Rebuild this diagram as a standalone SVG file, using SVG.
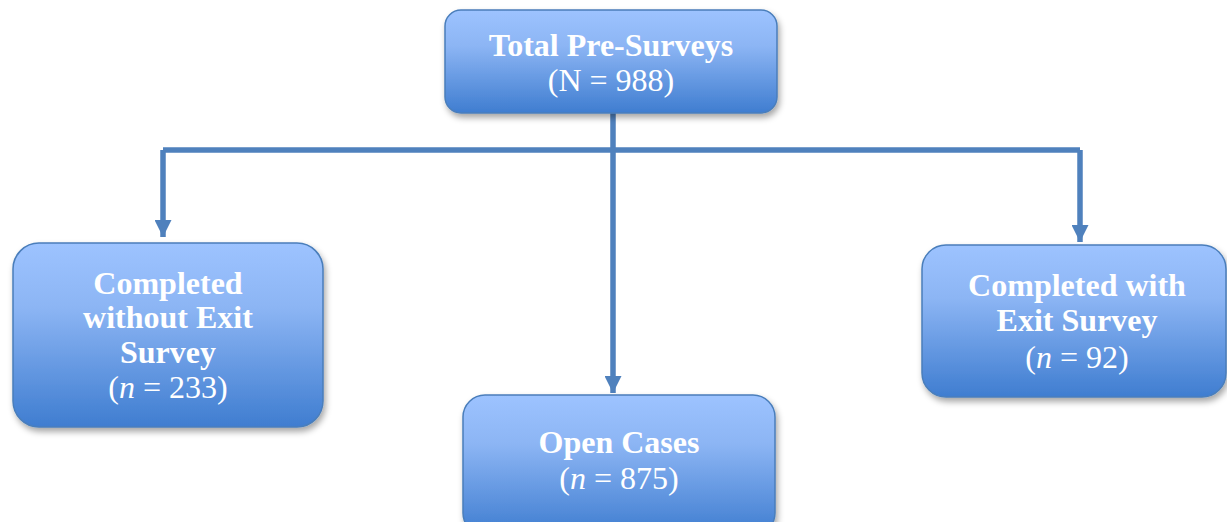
<svg xmlns="http://www.w3.org/2000/svg" width="1227" height="522" viewBox="0 0 1227 522">
<defs>
<linearGradient id="g" x1="0" y1="0" x2="0" y2="1">
<stop offset="0" stop-color="#9dc3ff"/>
<stop offset="0.35" stop-color="#8cb5f4"/>
<stop offset="1" stop-color="#3f7dd0"/>
</linearGradient>
<filter id="sh" x="-10%" y="-10%" width="120%" height="130%">
<feDropShadow dx="2" dy="4" stdDeviation="3" flood-color="#000" flood-opacity="0.35"/>
</filter>
<marker id="ah" viewBox="0 0 10 10" refX="10" refY="5" markerWidth="17" markerHeight="17" markerUnits="userSpaceOnUse" orient="auto">
<path d="M0,0 L10,5 L0,10 z" fill="#4f81bd"/>
</marker>
<style>
.box{fill:url(#g);stroke:#4a7ebb;stroke-width:1.5;filter:url(#sh)}
.t{font-family:"Liberation Serif","Times New Roman",serif;font-size:32px;fill:#fff;text-anchor:middle}
.b{font-weight:bold}
.c{fill:none;stroke:#4f81bd;stroke-width:5.5}
</style>
</defs>
<g id="connectors">
<path class="c" d="M613,113 V150"/>
<path class="c" d="M163,150 H1080"/>
<path class="c" d="M163,150 V237" marker-end="url(#ah)"/>
<path class="c" d="M613,150 V393" marker-end="url(#ah)"/>
<path class="c" d="M1080,150 V242" marker-end="url(#ah)"/>
</g>
<g id="total">
<rect class="box" x="445" y="10" width="332" height="103" rx="16"/>
<text class="t b" x="611" y="56">Total Pre-Surveys</text>
<text class="t" x="611" y="91">(N = 988)</text>
</g>
<g id="without">
<rect class="box" x="13" y="243" width="310" height="184" rx="26"/>
<text class="t b" x="168" y="294">Completed</text>
<text class="t b" x="168" y="328">without Exit</text>
<text class="t b" x="168" y="363">Survey</text>
<text class="t" x="168" y="398">(<tspan font-style="italic">n</tspan> = 233)</text>
</g>
<g id="open">
<rect class="box" x="463" y="395" width="312" height="140" rx="22"/>
<text class="t b" x="619" y="453">Open Cases</text>
<text class="t" x="619" y="489">(<tspan font-style="italic">n</tspan> = 875)</text>
</g>
<g id="with">
<rect class="box" x="922" y="245" width="304" height="152" rx="24"/>
<text class="t b" x="1077" y="296">Completed with</text>
<text class="t b" x="1077" y="331">Exit Survey</text>
<text class="t" x="1077" y="368">(<tspan font-style="italic">n</tspan> = 92)</text>
</g>
</svg>
